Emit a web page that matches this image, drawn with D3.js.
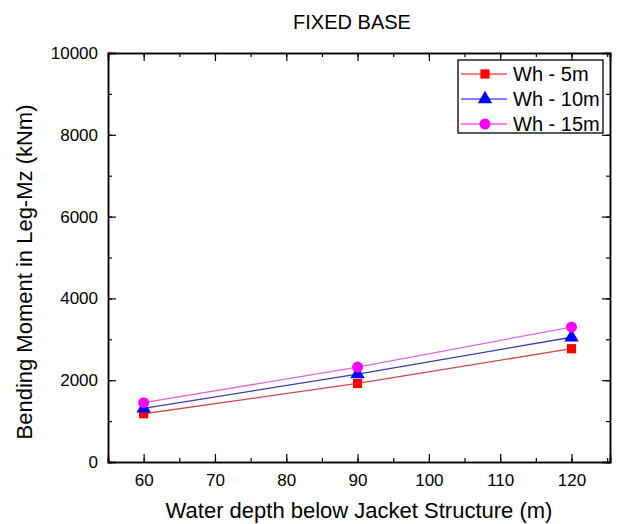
<!DOCTYPE html>
<html>
<head>
<style>
  html, body { margin: 0; padding: 0; background: #fff; overflow: hidden; }
  svg { font-family: "Liberation Sans", Arial, sans-serif; }
</style>
</head>
<body>
<div id="chart"></div>
<script src="https://cdnjs.cloudflare.com/ajax/libs/d3/7.8.5/d3.min.js"></script>
<script>
  // data
  let depths = [60, 90, 120]
  let wh5 = [1180, 1920, 2770]
  let wh10 = [1310, 2150, 3050]
  let wh15 = [1450, 2320, 3300]
  let seriesNames = ['Wh - 5m', 'Wh - 10m', 'Wh - 15m']
  let xTicks = [60, 70, 80, 90, 100, 110, 120]
  let yTicks = [0, 2000, 4000, 6000, 8000, 10000]

  let width = 619
  let height = 524
  let margin = { top: 53, left: 108, right: 9, bottom: 62 }

  let series = [
    { name: seriesNames[0], values: wh5, marker: '#ff0000', line: '#cc4a4a', symbol: d3.symbolSquare, size: 85 },
    { name: seriesNames[1], values: wh10, marker: '#0000ff', line: '#3a3ab0', symbol: d3.symbolTriangle, size: 90 },
    { name: seriesNames[2], values: wh15, marker: '#ff00ff', line: '#e066e0', symbol: d3.symbolCircle, size: 95 }
  ]

  let svg = d3.select('#chart').append('svg')
    .attr('width', width)
    .attr('height', height)

  let x = d3.scaleLinear().domain([55, 125.4]).range([margin.left, width - margin.right])
  let y = d3.scaleLinear().domain([0, 10000]).range([height - margin.bottom, margin.top])

  let x0 = x.range()[0], x1 = x.range()[1]
  let y0 = y.range()[0], y1 = y.range()[1]

  // minor tick values
  let xMinor = d3.range(55, 126, 5)
  let yMinor = d3.range(0, 10001, 1000)

  function drawAxis(axis, transform) {
    let g = svg.append('g').attr('transform', transform).call(axis)
    g.attr('font-family', null).attr('font-size', null)
    g.select('.domain').attr('stroke', '#000').attr('stroke-width', 1.5)
    g.selectAll('.tick line').attr('stroke', '#000').attr('stroke-width', 1.2)
    g.selectAll('.tick text').attr('font-size', 17).attr('fill', '#000')
    return g
  }

  // bottom
  drawAxis(d3.axisBottom(x).tickValues(xMinor).tickSize(-4).tickFormat(''), `translate(0,${y0})`)
  drawAxis(d3.axisBottom(x).tickValues(xTicks).tickSize(-8).tickPadding(12).tickFormat(d3.format('d')), `translate(0,${y0})`)
  // top
  drawAxis(d3.axisTop(x).tickValues(xMinor).tickSize(-4).tickFormat(''), `translate(0,${y1})`)
  drawAxis(d3.axisTop(x).tickValues(xTicks).tickSize(-8).tickFormat(''), `translate(0,${y1})`)
  // left
  drawAxis(d3.axisLeft(y).tickValues(yMinor).tickSize(-4).tickFormat(''), `translate(${x0},0)`)
  drawAxis(d3.axisLeft(y).tickValues(yTicks).tickSize(-8).tickPadding(10).tickFormat(d3.format('d')), `translate(${x0},0)`)
  // right
  drawAxis(d3.axisRight(y).tickValues(yMinor).tickSize(-4).tickFormat(''), `translate(${x1},0)`)
  drawAxis(d3.axisRight(y).tickValues(yTicks).tickSize(-8).tickFormat(''), `translate(${x1},0)`)

  let line = d3.line()
    .x((d, i) => x(depths[i]))
    .y(d => y(d))

  series.forEach(s => {
    svg.append('path')
      .datum(s.values)
      .attr('fill', 'none')
      .attr('stroke', s.line)
      .attr('stroke-width', 1.3)
      .attr('d', line)
  })

  series.forEach(s => {
    svg.selectAll(null)
      .data(s.values)
      .enter().append('path')
      .attr('d', d3.symbol().type(s.symbol).size(s.size))
      .attr('fill', s.marker)
      .attr('transform', (d, i) => `translate(${x(depths[i])},${y(d)})`)
  })

  // legend
  let legend = svg.append('g').attr('transform', 'translate(458,60)')
  legend.append('rect')
    .attr('width', 145).attr('height', 73)
    .attr('fill', '#fff').attr('stroke', '#000').attr('stroke-width', 1.3)

  series.forEach((s, i) => {
    let ly = 14 + i * 25
    legend.append('line')
      .attr('x1', 3).attr('x2', 49).attr('y1', ly).attr('y2', ly)
      .attr('stroke', s.marker).attr('stroke-width', 1.2)
    legend.append('path')
      .attr('d', d3.symbol().type(s.symbol).size(s.size))
      .attr('fill', s.marker)
      .attr('transform', `translate(27,${ly})`)
    legend.append('text')
      .attr('x', 55).attr('y', ly + 7)
      .attr('font-size', 20)
      .text(s.name)
  })

  // titles
  svg.append('text')
    .attr('x', 352).attr('y', 29)
    .attr('text-anchor', 'middle')
    .attr('font-size', 20)
    .text('FIXED BASE')

  svg.append('text')
    .attr('x', 359).attr('y', 518)
    .attr('text-anchor', 'middle')
    .attr('font-size', 22)
    .text('Water depth below Jacket Structure (m)')

  svg.append('text')
    .attr('transform', 'translate(32,272) rotate(-90)')
    .attr('text-anchor', 'middle')
    .attr('font-size', 22)
    .text('Bending Moment in Leg-Mz (kNm)')
</script>
</body>
</html>
